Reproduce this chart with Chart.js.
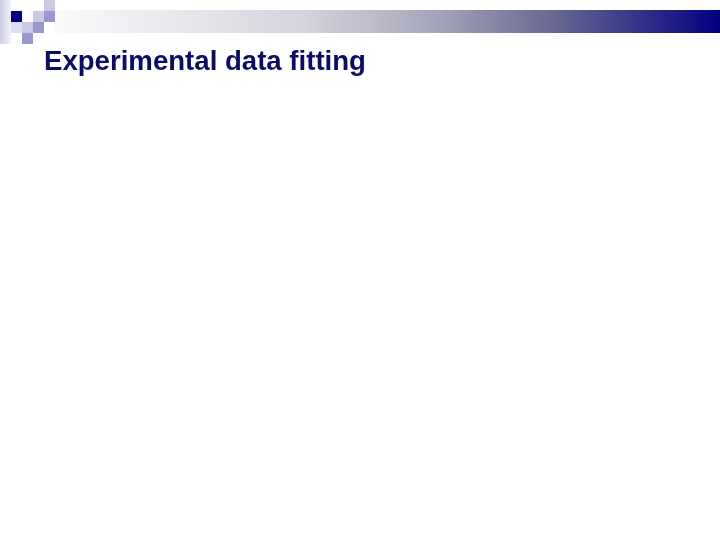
<!DOCTYPE html>
<html>
<head>
<meta charset="utf-8">
<title>Experimental data fitting</title>
<script src="https://cdn.jsdelivr.net/npm/chart.js@4/dist/chart.umd.min.js"></script>
<style>
    html, body { margin: 0; padding: 0; background: #ffffff; }
    #slide { position: relative; width: 720px; height: 540px; overflow: hidden; }
    .deco { position: absolute; }
    #topBar {
        left: 55px; top: 10px; width: 665px; height: 23px;
        background: linear-gradient(to right, #fafafc 0%, #d4d4dd 37%, #a9a9bd 56%, #64648f 76%, #000080 100%);
    }
    #leftStrip { left: 0; top: 0; width: 11px; height: 44px; background: linear-gradient(to right, #cdcde4, #f2f2f8); }
    .sq { width: 11px; height: 11px; }
    .navy { background: #000080; }
    .light { background: #c9c9e5; }
    .mid { background: #9898cc; }
    .pale { background: #dedef0; }
    #chartCanvas { position: absolute; left: 0; top: 0; }
</style>
</head>
<body>
<div id="slide">
    <div class="deco" id="topBar"></div>
    <div class="deco" id="leftStrip"></div>
    <div class="deco sq navy" style="left:11px;top:11px;"></div>
    <div class="deco sq pale" style="left:11px;top:22px;"></div>
    <div class="deco sq light" style="left:33px;top:11px;"></div>
    <div class="deco sq mid" style="left:44px;top:11px;"></div>
    <div class="deco sq light" style="left:44px;top:0px;"></div>
    <div class="deco sq light" style="left:22px;top:22px;"></div>
    <div class="deco sq mid" style="left:33px;top:22px;"></div>
    <div class="deco sq mid" style="left:22px;top:33px;"></div>
    <canvas id="chartCanvas" width="720" height="540"></canvas>
</div>
<script>
    // the slide has a title only, the plot area below it is still empty
    const titleText = 'Experimental data fitting';
    const categories = [];
    const measured = [];
    const fitted = [];

    const ctx = document.getElementById('chartCanvas');
    new Chart(ctx, {
        type: 'line',
        data: {
            labels: categories,
            datasets: [
                { label: 'Measured', data: measured, borderColor: '#000080', showLine: false },
                { label: 'Fit', data: fitted, borderColor: '#000080', pointRadius: 0 }
            ]
        },
        options: {
            responsive: false,
            animation: false,
            layout: { padding: { left: 44, top: 0, right: 20, bottom: 20 } },
            scales: { x: { display: false }, y: { display: false } },
            plugins: {
                legend: { display: false },
                tooltip: { enabled: false },
                title: {
                    display: true,
                    text: titleText,
                    align: 'start',
                    color: '#0c0c64',
                    font: { family: 'Liberation Sans, Arial, sans-serif', size: 27.6, weight: 'bold' },
                    padding: { top: 46, bottom: 10 }
                }
            }
        }
    });
</script>
</body>
</html>
